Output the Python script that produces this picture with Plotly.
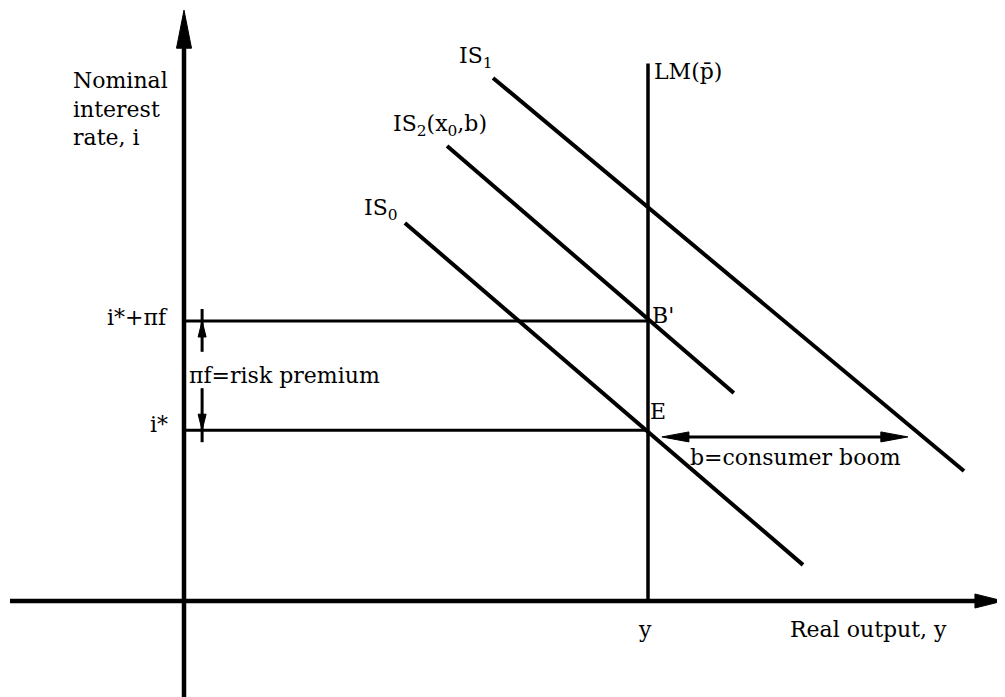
import plotly.graph_objects as go

# ---------------- data (model units) ----------------
y_axis_bottom = -3.43
y_axis_top = 21.1
x_axis_left = -3.75
x_axis_right = 17.65

y_eq = 10.0            # LM vertical (full-employment output)
lm_top = 19.2
i_star = 6.1           # world interest rate
risk_premium = 3.9     # pi f
i_high = i_star + risk_premium

is0_x = [4.76, 13.34]
is0_y = [13.5, 1.29]
is1_x = [6.66, 16.81]
is1_y = [18.68, 4.64]
is2_x = [5.67, 11.85]
is2_y = [16.25, 7.43]

boom_x = [10.3, 15.6]   # b = consumer boom (arrow ends)
boom_y = 5.86
premium_arrow_x = 0.39
premium_text_gap = [8.9, 7.6]  # where the risk-premium arrows start (above/below text)

# ---------------- geometry / style ----------------
W, H = 1005, 697
PAGE_OFFSET = 8            # default body margin of the html page
X0PX, XS = 184.0 - PAGE_OFFSET, 46.4     # pixel of x=0, pixels per unit
Y0PX, YS = 601.0 - PAGE_OFFSET, 28.0     # pixel of y=0, pixels per unit
x_range = [-X0PX / XS, (W - X0PX) / XS]
y_range = [-(H - Y0PX) / YS, Y0PX / YS]

FONT = dict(family="DejaVu Serif", size=22, color="black")

fig = go.Figure()


def line(xs, ys, width=4):
    fig.add_trace(go.Scatter(x=xs, y=ys, mode="lines",
                             line=dict(color="black", width=width),
                             hoverinfo="skip", showlegend=False))


def head(tip_x, tip_y, dx, dy, length, half):
    # dx, dy: pixel direction (screen coords, y down) of arrow
    tx = X0PX + tip_x * XS
    ty = Y0PX - tip_y * YS
    n = (dx * dx + dy * dy) ** 0.5
    ux, uy = dx / n, dy / n
    bx, by = tx - ux * length, ty - uy * length
    px_, py_ = -uy, ux
    pts = [(tx, ty), (bx + px_ * half, by + py_ * half), (bx - px_ * half, by - py_ * half)]
    d = "M " + " L ".join(f"{(p[0]-X0PX)/XS:.4f},{(Y0PX-p[1])/YS:.4f}" for p in pts) + " Z"
    fig.add_shape(type="path", path=d, fillcolor="black", line=dict(color="black", width=1),
                  xref="x", yref="y", layer="above")


def back(val, px, scale):
    return val - px / scale

# axes
line([0, 0], [y_axis_bottom, back(y_axis_top, 30, YS)], width=4.5)
head(0, y_axis_top, 0, -1, 38, 7.5)
line([x_axis_left, back(x_axis_right, 22, XS)], [0, 0], width=4.5)
head(x_axis_right, 0, 1, 0, 28, 7)

# LM
line([y_eq, y_eq], [0, lm_top], width=3.5)

# IS curves
line(is0_x, is0_y, width=4)
line(is1_x, is1_y, width=4)
line(is2_x, is2_y, width=4)

# interest rate levels
line([0, y_eq], [i_high, i_high], width=3)
line([0, y_eq], [i_star, i_star], width=3)

# risk premium arrows
line([premium_arrow_x, premium_arrow_x], [premium_text_gap[0], back(i_high, -12, YS)], width=3)
head(premium_arrow_x, i_high, 0, -1, 16, 4)
line([premium_arrow_x, premium_arrow_x], [premium_text_gap[1], back(i_star, 12, YS)], width=3)
head(premium_arrow_x, i_star, 0, 1, 16, 4)

# consumer boom double arrow
line([back(boom_x[0], -20, XS), back(boom_x[1], 20, XS)], [boom_y, boom_y], width=3)
head(boom_x[0], boom_y, -1, 0, 27, 5)
head(boom_x[1], boom_y, 1, 0, 27, 5)


def label(text, x, y, xanchor, yanchor, xshift=0, yshift=0, align="left"):
    fig.add_annotation(text=text, x=x, y=y, xref="x", yref="y", showarrow=False,
                       xanchor=xanchor, yanchor=yanchor, xshift=xshift, yshift=yshift,
                       align=align, font=FONT)

label("Nominal<br>interest<br>rate, i", 0, y_axis_top, "right", "top", -14, -56)
label("IS<sub>1</sub>", is1_x[0], is1_y[0], "right", "bottom", 2, 4)
label("LM(p\u0304)", y_eq, lm_top, "left", "middle", 4, -8)
label("IS<sub>2</sub>(x<sub>0</sub>,b)", is2_x[0], is2_y[0], "right", "bottom", 42, 4)
label("IS<sub>0</sub>", is0_x[0], is0_y[0], "right", "bottom", -5, -3)
label("B'", y_eq, i_high, "left", "middle", 2, 6)
label("E", y_eq, i_star, "left", "bottom", 0, 4)
label("b=consumer boom", boom_x[0], boom_y, "left", "top", 26, -6)
label("i*+\u03c0f", 0, i_high, "right", "middle", -14, 4)
label("i*", 0, i_star, "right", "middle", -14, 6)
label("\u03c0f=risk premium", 0, (i_high + i_star) / 2, "left", "middle", 3, 0)
label("y", y_eq, 0, "center", "top", -3, -14)
label("Real output, y", x_axis_right, 0, "right", "top", -54, -14)

fig.update_layout(
    width=W, height=H, margin=dict(l=0, r=0, t=0, b=0),
    paper_bgcolor="white", plot_bgcolor="white", showlegend=False,
    xaxis=dict(range=x_range, visible=False, fixedrange=True),
    yaxis=dict(range=y_range, visible=False, fixedrange=True),
)

fig.write_html("out.html")
